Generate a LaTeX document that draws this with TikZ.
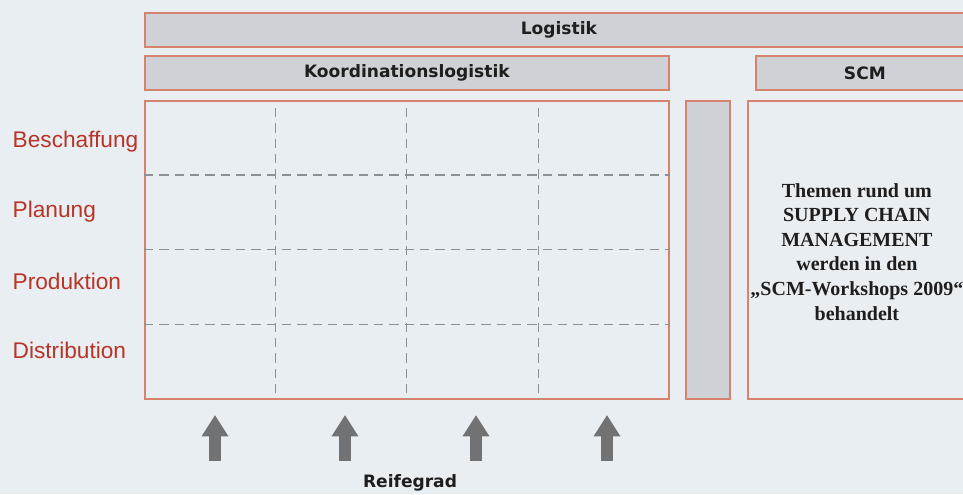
\documentclass[tikz,border=0pt]{standalone}
\usepackage{fontspec}
\setmainfont{Liberation Sans}
\newfontfamily\headfont{DejaVu Sans}
\newfontfamily\bodyserif{Liberation Serif}
\usetikzlibrary{calc}
\usetikzlibrary{arrows.meta}
\definecolor{background}{RGB}{233,238,243}
\definecolor{barfill}{RGB}{206,210,215}
\definecolor{boxline}{RGB}{214,130,108}
\definecolor{rowred}{RGB}{184,52,38}
\definecolor{gridgray}{RGB}{140,143,147}
\definecolor{arrowgray}{RGB}{112,114,116}
\definecolor{headtext}{RGB}{30,30,30}
\newcommand{\px}{0.75pt}
\newcommand{\widthraster}{524}
\newcommand{\heightraster}{298}
\tikzset{
    common/.style={anchor=north west, draw=boxline, line width=1.3pt, rectangle, inner sep=0pt},
    bar/.style={common, fill=barfill, minimum height=34*\px, text=headtext,
        font=\headfont\bfseries\fontsize{12.8}{15}\selectfont},
    field/.style={common, fill=background, minimum height=\heightraster*\px},
    row/.style={anchor=west, text=rowred, font=\fontsize{17}{20}\selectfont},
    gridline/.style={gridgray, dash pattern=on 7pt off 4.5pt, line width=0.9pt},
    grade/.style={arrowgray, line width=9pt, -{Triangle[length=16pt,width=19pt]}}
}

\begin{document}
\begin{tikzpicture}[x=0.75pt, y=-0.75pt]
        \clip (0,0) rectangle (963,494);
        \fill[background] (0,0) rectangle (963,494);

        % headings
        \node[bar, minimum width=828*\px] (logistik) at (144,12) {Logistik};
        \node[bar, minimum width=\widthraster*\px] (koord) at (144,55) {Koordinationslogistik};
        \node[bar, minimum width=218*\px] (scm) at (755,55) {SCM};

        % fields
        \node[field, minimum width=\widthraster*\px] (raster) at (144,100) {};
        \node[common, fill=barfill, minimum width=44*\px, minimum height=\heightraster*\px] (pillar) at (685,100) {};
        \node[field, minimum width=228*\px] (scmbox) at (747,100) {};
        \node[align=center, text=headtext, font=\bodyserif\bfseries\fontsize{15}{18.4}\selectfont]
            (scmtext) at ($(scmbox.center)+(-5,2)$)
            {Themen rund um\\SUPPLY CHAIN\\MANAGEMENT\\werden in den\\„SCM-Workshops 2009“\\behandelt};

        % rows
        \node[row] (beschaffung) at (8,142) {Beschaffung};
        \node[row] (planung) at (8,212) {Planung};
        \node[row] (produktion) at (8,281) {Produktion};
        \node[row] (distribution) at (8,350) {Distribution};

        \foreach \f in {0.25,0.5,0.75} {
            \draw[gridline] ($(raster.north west)!\f!(raster.north east)+(0,8)$) -- ($(raster.south west)!\f!(raster.south east)$);
            \draw[gridline] ($(raster.north west)!\f!(raster.south west)$) -- ($(raster.north east)!\f!(raster.south east)$);
        }

        % maturity arrows
        \foreach \ax [count=\i] in {215,345,476,607} {
            \coordinate (foot-\i) at (\ax,461);
            \coordinate (tip-\i) at (\ax,415);
            \draw[grade] (foot-\i) -- (tip-\i);
        }
        \node[text=headtext, font=\headfont\bfseries\fontsize{12.8}{15}\selectfont] (reifegrad) at (410,483) {Reifegrad};
    \end{tikzpicture}
\end{document}
